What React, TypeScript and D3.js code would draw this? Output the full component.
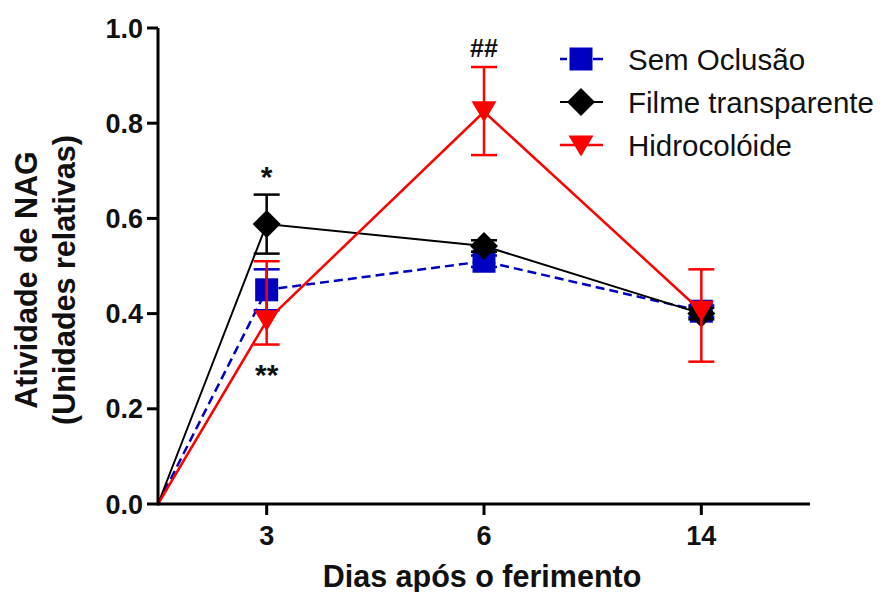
import React from "react";
import * as d3 from "d3";

// Days after wounding (categorical x axis); the origin (day 0, value 0) sits at the axes corner
const days = ["3", "6", "14"];
const yTicks = [0, 0.2, 0.4, 0.6, 0.8, 1.0];

// Sem Oclusão
const semMean = [0.45, 0.51, 0.405];
const semErr = [0.043, 0.012, 0.012];
// Filme transparente
const filmeMean = [0.588, 0.542, 0.4];
const filmeErr = [0.062, 0.012, 0.012];
// Hidrocolóide
const hidroMean = [0.385, 0.824, 0.405];
const hidroErrUp = [0.125, 0.094, 0.088];
const hidroErrDown = [0.05, 0.091, 0.106];

const seriesNames = ["Sem Oclusão", "Filme transparente", "Hidrocolóide"];

// Significance marks: [day index, value position, text]
const marks: [number, number, string][] = [
  [0, 0.7, "*"],
  [0, 0.284, "**"],
  [1, 0.955, "##"],
];

const W = 886;
const H = 592;
const FONT = "'Liberation Sans', Arial, sans-serif";

export default function App() {
  const x = d3.scaleLinear().domain([-0.5, 2.5]).range([158, 810]);
  const y = d3.scaleLinear().domain([0, 1]).range([504, 28]);

  const originX = x.domain()[0];
  const line = d3
    .line<[number, number]>()
    .x((d) => x(d[0]))
    .y((d) => y(d[1]));

  const pts = (vals: number[]): [number, number][] => [
    [originX, 0],
    ...vals.map((v, i) => [i, v] as [number, number]),
  ];

  const series = [
    {
      name: seriesNames[0],
      color: "#0000c0",
      mean: semMean,
      up: semErr,
      down: semErr,
      dash: "9,5",
      width: 2.5,
      marker: "square",
    },
    {
      name: seriesNames[1],
      color: "#000000",
      mean: filmeMean,
      up: filmeErr,
      down: filmeErr,
      dash: undefined,
      width: 2,
      marker: "diamond",
    },
    {
      name: seriesNames[2],
      color: "#ff0000",
      mean: hidroMean,
      up: hidroErrUp,
      down: hidroErrDown,
      dash: undefined,
      width: 2.5,
      marker: "triangle",
    },
  ];

  const drawMarker = (kind: string, cx: number, cy: number, color: string, key: string) => {
    if (kind === "square") {
      const s = 23;
      return <rect key={key} x={cx - s / 2} y={cy - s / 2} width={s} height={s} fill={color} />;
    }
    if (kind === "diamond") {
      const r = 14;
      return (
        <path
          key={key}
          d={`M${cx},${cy - r}L${cx + r},${cy}L${cx},${cy + r}L${cx - r},${cy}Z`}
          fill={color}
        />
      );
    }
    const hw = 12.5;
    const h = 21;
    return (
      <path
        key={key}
        d={`M${cx - hw},${cy - h / 2}L${cx + hw},${cy - h / 2}L${cx},${cy + h / 2}Z`}
        fill={color}
      />
    );
  };

  const cap = 13;
  const legendX = 581;
  const legendRows = [59, 102, 145];

  return (
    <svg
      width={W}
      height={H}
      style={{ display: "block", position: "absolute", left: 0, top: 0 }}
      fontFamily={FONT}
    >
      <rect width={W} height={H} fill="#ffffff" />

      {/* series lines, error bars and markers */}
      {series.map((s, si) => (
        <g key={s.name}>
          <path
            d={line(pts(s.mean)) || ""}
            fill="none"
            stroke={s.color}
            strokeWidth={s.width}
            strokeDasharray={s.dash}
          />
          {s.mean.map((v, i) => (
            <g key={i} stroke={s.color} strokeWidth={2.5}>
              <line x1={x(i)} x2={x(i)} y1={y(v + s.up[i])} y2={y(v - s.down[i])} />
              <line x1={x(i) - cap} x2={x(i) + cap} y1={y(v + s.up[i])} y2={y(v + s.up[i])} />
              <line x1={x(i) - cap} x2={x(i) + cap} y1={y(v - s.down[i])} y2={y(v - s.down[i])} />
            </g>
          ))}
          {s.mean.map((v, i) => drawMarker(s.marker, x(i), y(v), s.color, `m${si}-${i}`))}
        </g>
      ))}

      {/* axes */}
      <line x1={x.range()[0]} x2={x.range()[0]} y1={y(0) + 1.5} y2={y(1)} stroke="#000" strokeWidth={3} />
      <line x1={x.range()[0]} x2={x.range()[1]} y1={y(0)} y2={y(0)} stroke="#000" strokeWidth={3} />
      {yTicks.map((t) => (
        <g key={t}>
          <line x1={x.range()[0] - 11} x2={x.range()[0]} y1={y(t)} y2={y(t)} stroke="#000" strokeWidth={3} />
          <text
            x={143}
            y={y(t) + 9.5}
            textAnchor="end"
            fontSize={27}
            fontWeight="bold"
            fill="#111"
          >
            {t.toFixed(1)}
          </text>
        </g>
      ))}
      {days.map((d, i) => (
        <g key={d}>
          <line x1={x(i)} x2={x(i)} y1={y(0)} y2={y(0) + 11} stroke="#000" strokeWidth={3} />
          <text x={x(i)} y={545} textAnchor="middle" fontSize={27} fontWeight="bold" fill="#111">
            {d}
          </text>
        </g>
      ))}

      {/* axis titles */}
      <text x={482} y={587} textAnchor="middle" fontSize={30.5} fontWeight="bold" fill="#111">
        Dias após o ferimento
      </text>
      <g transform="translate(37,280) rotate(-90)">
        <text x={0} y={0} textAnchor="middle" fontSize={30.5} fontWeight="bold" fill="#111">
          Atividade de NAG
        </text>
        <text x={0} y={38} textAnchor="middle" fontSize={30.5} fontWeight="bold" fill="#111">
          (Unidades relativas)
        </text>
      </g>

      {/* significance marks */}
      {marks.map(([i, v, t], k) => (
        <text
          key={k}
          x={x(i)}
          y={y(v) + (t === "##" ? 8 : 16)}
          textAnchor="middle"
          fontSize={t === "##" ? 25 : 30}
          fontWeight="bold"
          fill="#111"
        >
          {t}
        </text>
      ))}

      {/* legend */}
      {series.map((s, si) => (
        <g key={`lg${si}`}>
          <line
            x1={legendX - 21}
            x2={legendX + 22}
            y1={legendRows[si]}
            y2={legendRows[si]}
            stroke={s.color}
            strokeWidth={s.width}
            strokeDasharray={s.dash ? "7,12,7" : undefined}
          />
          {drawMarker(s.marker, legendX, legendRows[si] + (s.marker === "triangle" ? 1 : 0), s.color, `lm${si}`)}
          <text x={628} y={legendRows[si] + 10.5} fontSize={29.5} fill="#111">
            {s.name}
          </text>
        </g>
      ))}
    </svg>
  );
}
